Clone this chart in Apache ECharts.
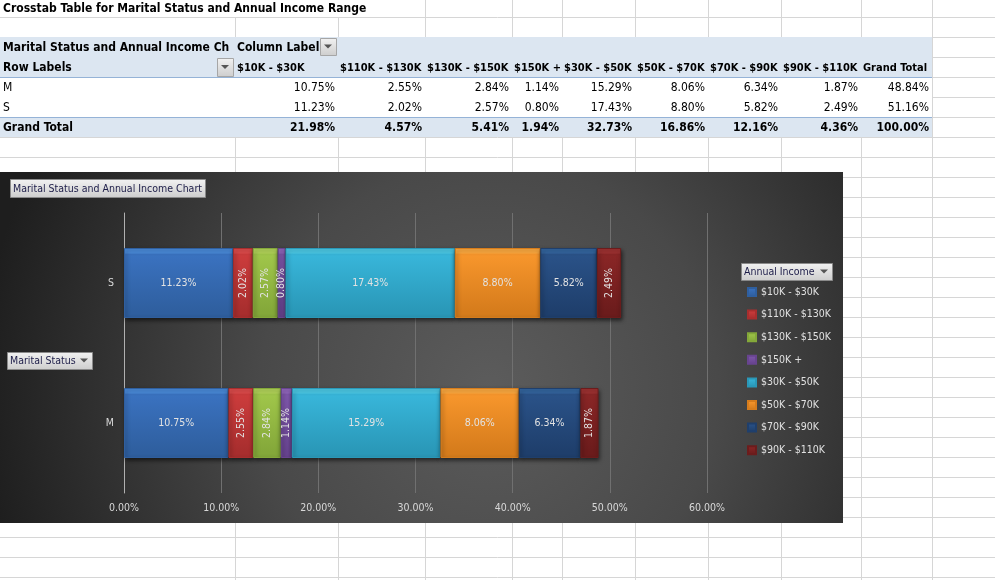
<!DOCTYPE html>
<html>
<head>
<meta charset="utf-8">
<script src="https://cdn.jsdelivr.net/npm/echarts@6.0.0/dist/echarts.min.js"></script>
<style>
  html, body { margin: 0; padding: 0; background: #fff; }
  #chartContainer { width: 995px; height: 580px; }
</style>
</head>
<body>
<div id="chartContainer"></div>
<script>
// data read from the crosstab
const incomeRanges = ['$10K - $30K', '$110K - $130K', '$130K - $150K', '$150K +', '$30K - $50K', '$50K - $70K', '$70K - $90K', '$90K - $110K'];
const statuses = ['M', 'S'];
const valuesM = [10.75, 2.55, 2.84, 1.14, 15.29, 8.06, 6.34, 1.87];
const valuesS = [11.23, 2.02, 2.57, 0.80, 17.43, 8.80, 5.82, 2.49];
const rowTotals = [48.84, 51.16];
const colTotals = [21.98, 4.57, 5.41, 1.94, 32.73, 16.86, 12.16, 4.36];
const grandTotal = 100.00;

// bar colours (light top, mid, dark bottom)
const barColors = [
  ['#4a8bdb', '#3a72c0', '#2f5f9f'],
  ['#e04c4c', '#cc3c3c', '#a82e2e'],
  ['#b4d65a', '#a0c64a', '#84a83a'],
  ['#9468c0', '#7e56aa', '#684490'],
  ['#4ccbe8', '#38b6da', '#2a98b8'],
  ['#ffab40', '#f7962c', '#d67c1c'],
  ['#3466a0', '#2a5288', '#1f3f6c'],
  ['#a03232', '#8a2626', '#6c1c1c']
];

const FONT = '"Liberation Sans Narrow", "DejaVu Sans Condensed", "Liberation Sans", sans-serif';
const CELL = '12px ' + FONT;
const CELL_BOLD = 'bold 12px ' + FONT;
const HEAD_BOLD = 'bold 11px ' + FONT;
const SMALL = 10.5;

// spreadsheet layout
const gridCols = [235, 338, 425, 512, 562, 635, 708, 781, 861, 932];
const headerLeft = [237, 340, 427, 514, 564, 637, 710, 783, 863];
const valueRight = [335, 422, 509, 559, 632, 705, 778, 858, 929];

const pct = v => v.toFixed(2) + '%';

const g = [];
const txt = (x, y, s, opt) => g.push({
  type: 'text', x: x, y: y, silent: true,
  style: Object.assign({ text: s, fill: '#000', font: CELL, textAlign: 'left', textVerticalAlign: 'middle' }, opt || {})
});
const button = (x, y, w, h, label, noArrow) => {
  g.push({ type: 'rect', silent: true, shape: { x: x + 0.5, y: y + 0.5, width: w, height: h },
    style: { fill: new echarts.graphic.LinearGradient(0, 0, 0, 1, [{ offset: 0, color: '#f2f2f2' }, { offset: 1, color: '#cdcdcd' }]), stroke: label ? '#8a8a8a' : '#a6a6a6', lineWidth: 1 } });
  if (!noArrow) {
    const tx = x + w - 8, ty = y + h / 2;
    g.push({ type: 'polygon', silent: true, shape: { points: [[tx - 4, ty - 2], [tx + 4, ty - 2], [tx, ty + 2]] }, style: { fill: '#555' } });
  }
  if (label) txt(x + 3, y + h / 2 + 1, label, { fill: '#1c1c48', font: SMALL + 'px ' + FONT });
};

// cell gridlines
gridCols.forEach(x => g.push({ type: 'line', silent: true, shape: { x1: x + 0.5, y1: 0, x2: x + 0.5, y2: 580 }, style: { stroke: '#d6d6d6', lineWidth: 1 } }));
for (let y = 17; y < 580; y += 20) {
  g.push({ type: 'line', silent: true, shape: { x1: 0, y1: y + 0.5, x2: 995, y2: y + 0.5 }, style: { stroke: '#d6d6d6', lineWidth: 1 } });
}
g.push({ type: 'rect', silent: true, shape: { x: 0, y: 0, width: 424, height: 17 }, style: { fill: '#fff' } });
txt(3, 9, 'Crosstab Table for Marital Status and Annual Income Range', { font: CELL_BOLD });

// pivot table
g.push({ type: 'rect', silent: true, shape: { x: 0, y: 37, width: 932, height: 40 }, style: { fill: '#dce6f1' } });
g.push({ type: 'rect', silent: true, shape: { x: 0, y: 78, width: 932, height: 39 }, style: { fill: '#fff' } });
g.push({ type: 'rect', silent: true, shape: { x: 0, y: 117, width: 932, height: 20 }, style: { fill: '#dce6f1' } });
[77, 117].forEach(y => g.push({ type: 'line', silent: true, shape: { x1: 0, y1: y + 0.5, x2: 932, y2: y + 0.5 }, style: { stroke: '#95b3d7', lineWidth: 1 } }));

txt(3, 48, 'Marital Status and Annual Income Chart', { font: CELL_BOLD, width: 234, overflow: 'truncate', ellipsis: '' });
txt(237, 48, 'Column Labels', { font: CELL_BOLD, width: 86, overflow: 'truncate', ellipsis: '' });
button(320, 38, 16, 17);
txt(3, 68, 'Row Labels', { font: CELL_BOLD });
button(217, 58, 16, 18);
incomeRanges.concat(['Grand Total']).forEach((h, i) => txt(headerLeft[i], 68, h, { font: HEAD_BOLD }));

[valuesM, valuesS].forEach((vals, r) => {
  const y = 88 + r * 20;
  txt(3, y, statuses[r]);
  vals.concat([rowTotals[r]]).forEach((v, i) => txt(valueRight[i], y, pct(v), { textAlign: 'right' }));
});
txt(3, 128, 'Grand Total', { font: CELL_BOLD });
colTotals.concat([grandTotal]).forEach((v, i) => txt(valueRight[i], 128, pct(v), { textAlign: 'right', font: CELL_BOLD }));

// chart area background
g.push({ type: 'rect', silent: true, shape: { x: 0, y: 172, width: 843, height: 351 },
  style: { fill: new echarts.graphic.RadialGradient(0.58, 0.62, 1.45, [
    { offset: 0, color: '#5c5c5c' }, { offset: 0.45, color: '#494949' }, { offset: 1, color: '#1e1e1e' }]) } });
button(10, 179, 195, 18, 'Marital Status and Annual Income Chart', true);
button(7, 352, 85, 17, 'Marital Status');
button(741, 263, 91, 17, 'Annual Income');

const series = incomeRanges.map((name, i) => {
  const c = barColors[i];
  return {
    name: name,
    type: 'bar',
    stack: 'total',
    barWidth: 70,
    data: [valuesM[i], valuesS[i]].map(v => ({
      value: v,
      label: v < 4 ? { rotate: 90 } : {}
    })),
    itemStyle: {
      color: new echarts.graphic.LinearGradient(0, 0, 0, 1, [
        { offset: 0, color: c[0] }, { offset: 0.07, color: c[0] },
        { offset: 0.09, color: c[1] }, { offset: 0.9, color: c[2] },
        { offset: 1, color: c[2] }
      ]),
      borderColor: c[2],
      borderWidth: 1,
      shadowBlur: 4,
      shadowColor: 'rgba(0,0,0,0.55)',
      shadowOffsetX: 1,
      shadowOffsetY: 2
    },
    label: {
      show: true,
      position: 'inside',
      color: '#e2e2e2',
      fontFamily: FONT,
      fontSize: SMALL,
      formatter: p => pct(p.value)
    },
    emphasis: { disabled: true }
  };
});

const chart = echarts.init(document.getElementById('chartContainer'));
chart.setOption({
  animation: false,
  graphic: g,
  grid: { left: 124, top: 213, width: 583, height: 280, containLabel: false },
  legend: {
    data: incomeRanges,
    orient: 'vertical',
    left: 742,
    top: 280,
    itemWidth: 8,
    itemHeight: 8,
    itemGap: 8.6,
    icon: 'rect',
    selectedMode: false,
    textStyle: { color: '#e0e0e0', fontFamily: FONT, fontSize: SMALL, lineHeight: 14 }
  },
  xAxis: {
    type: 'value',
    min: 0,
    max: 60,
    interval: 10,
    axisLine: { show: false },
    axisTick: { show: false },
    splitLine: { lineStyle: { color: '#707070', width: 1 } },
    axisLabel: { color: '#d8d8d8', fontFamily: FONT, fontSize: SMALL, margin: 10, formatter: v => pct(v) }
  },
  yAxis: {
    type: 'category',
    data: statuses,
    axisLine: { show: true, lineStyle: { color: '#b0b0b0', width: 1 } },
    axisTick: { show: false },
    axisLabel: { color: '#d8d8d8', fontFamily: FONT, fontSize: SMALL, margin: 10 }
  },
  series: series
});
</script>
</body>
</html>
